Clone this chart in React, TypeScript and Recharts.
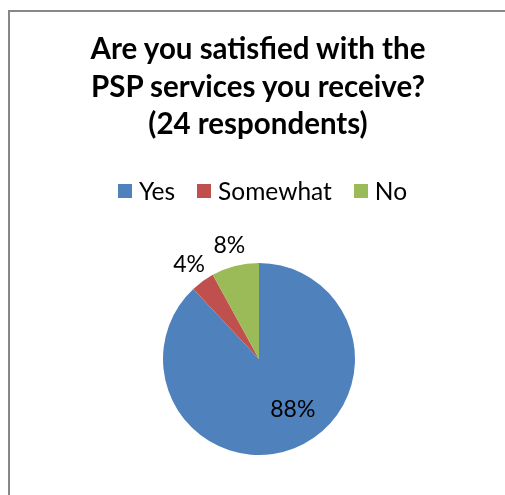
import { PieChart, Pie, Cell, Legend } from "recharts";

const categories = ["Yes", "Somewhat", "No"];
const values = [88, 4, 8];
const colors = ["#4F81BD", "#C0504D", "#9BBB59"];
const titleLines = [
  "Are you satisfied with the",
  "PSP services you receive?",
  "(24 respondents)",
];

const data = categories.map((name, i) => ({ name, value: values[i] }));

const FONT = "Lato, 'Liberation Sans', sans-serif";
const RAD = Math.PI / 180;

const renderLabel = (props: any) => {
  const { cx, cy, midAngle, outerRadius, value, percent } = props;
  const big = percent > 0.5;
  // big slice: label sits inside, nudged toward the lower right like Excel's best fit
  const angle = big ? midAngle + 13 : midAngle;
  const r = big ? outerRadius * 0.62 : outerRadius + 23;
  const x = cx + r * Math.cos(-angle * RAD);
  const y = cy + r * Math.sin(-angle * RAD);
  return (
    <text
      x={x}
      y={y}
      fill="#000"
      textAnchor="middle"
      dominantBaseline="central"
      fontSize={23}
      fontFamily={FONT}
    >
      {`${value}%`}
    </text>
  );
};

const renderLegend = (props: any) => {
  const payload = [...(props.payload || [])].sort(
    (a: any, b: any) => categories.indexOf(a.value) - categories.indexOf(b.value)
  );
  return (
    <div
      style={{
        display: "flex",
        justifyContent: "center",
        gap: 22,
        fontFamily: FONT,
        fontSize: 24.5,
        color: "#000",
        paddingLeft: 12,
      }}
    >
      {payload.map((entry: any) => (
        <div key={entry.value} style={{ display: "flex", alignItems: "center" }}>
          <span
            style={{
              display: "inline-block",
              width: 14,
              height: 14,
              background: entry.color,
              marginRight: 7,
            }}
          />
          <span>{entry.value}</span>
        </div>
      ))}
    </div>
  );
};

export default function App() {
  return (
    <div
      style={{
        position: "relative",
        width: 489,
        height: 479,
        fontFamily: FONT,
        background: "#fff",
      }}
    >
      <style>{"html,body{overflow:hidden}"}</style>
      {/* chart frame: only its top and left edges fall inside the window */}
      <div
        style={{
          position: "fixed",
          left: 8,
          top: 10,
          right: -20,
          bottom: -20,
          borderTop: "2px solid #878787",
          borderLeft: "2px solid #878787",
          pointerEvents: "none",
        }}
      />
      <div
        style={{
          position: "absolute",
          left: 0,
          top: 21,
          width: 500,
          textAlign: "center",
          fontWeight: 700,
          fontSize: 29.5,
          lineHeight: "37.5px",
          color: "#000",
        }}
      >
        {titleLines.map((t) => (
          <div key={t}>{t}</div>
        ))}
      </div>
      <PieChart
        width={489}
        height={479}
        margin={{ top: 0, right: 0, bottom: 0, left: 0 }}
      >
        <Legend
          verticalAlign="middle"
          align="center"
          layout="horizontal"
          content={renderLegend}
          wrapperStyle={{ top: 168, left: 0, width: 497 }}
        />
        <Pie
          data={data}
          dataKey="value"
          nameKey="name"
          cx={251}
          cy={351}
          outerRadius={96}
          startAngle={90}
          endAngle={-270}
          stroke="none"
          label={renderLabel}
          labelLine={false}
          isAnimationActive={false}
        >
          {data.map((d, i) => (
            <Cell key={d.name} fill={colors[i]} />
          ))}
        </Pie>
      </PieChart>
    </div>
  );
}
